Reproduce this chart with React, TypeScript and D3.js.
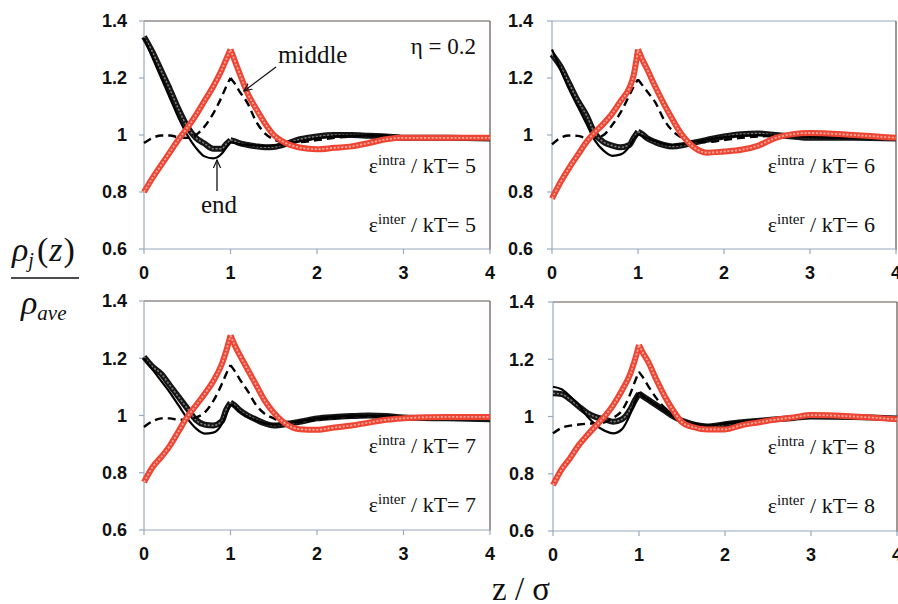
import React from "react";
import * as d3 from "d3";

// ---- data ----
const zGrid = [0, 0.1, 0.2, 0.3, 0.4, 0.5, 0.6, 0.7, 0.8, 0.9, 0.95, 1, 1.05, 1.1, 1.2, 1.3, 1.4, 1.5, 1.6, 1.8, 2, 2.2, 2.4, 2.6, 2.8, 3, 3.5, 4];

// epsilon / kT = 5
const endSim5 = [1.345, 1.29, 1.225, 1.16, 1.09, 1.03, 0.99, 0.97, 0.952, 0.952, 0.968, 0.982, 0.978, 0.972, 0.965, 0.96, 0.957, 0.958, 0.965, 0.985, 0.995, 1.0, 1.0, 0.997, 0.995, 0.99, 0.99, 0.988];
const endTheory5 = [1.34, 1.27, 1.2, 1.13, 1.06, 1.0, 0.955, 0.925, 0.918, 0.935, 0.955, 0.975, 0.972, 0.968, 0.965, 0.963, 0.962, 0.963, 0.967, 0.978, 0.988, 0.995, 0.998, 0.998, 0.996, 0.994, 0.993, 0.993];
const midTheory5 = [0.972, 0.99, 0.998, 0.998, 0.992, 0.99, 1.0, 1.03, 1.075, 1.135, 1.17, 1.2, 1.18, 1.155, 1.11, 1.045, 1.005, 0.985, 0.975, 0.975, 0.982, 0.99, 0.995, 0.998, 0.998, 0.996, 0.995, 0.995];
const midSim5 = [0.8, 0.85, 0.895, 0.94, 0.985, 1.025, 1.07, 1.12, 1.17, 1.23, 1.265, 1.3, 1.26, 1.22, 1.145, 1.09, 1.04, 1.0, 0.978, 0.956, 0.95, 0.955, 0.96, 0.972, 0.985, 0.99, 0.99, 0.99];

// epsilon / kT = 6
const endSim6 = [1.283, 1.24, 1.18, 1.12, 1.07, 1.005, 0.975, 0.963, 0.957, 0.965, 0.99, 1.012, 1.003, 0.99, 0.975, 0.965, 0.96, 0.963, 0.97, 0.983, 0.995, 1.003, 1.005, 1.0, 0.995, 0.99, 0.99, 0.988];
const endTheory6 = [1.3, 1.23, 1.16, 1.1, 1.04, 0.98, 0.945, 0.927, 0.932, 0.96, 0.985, 1.003, 0.997, 0.99, 0.978, 0.968, 0.965, 0.967, 0.972, 0.984, 0.993, 0.998, 1.0, 0.998, 0.995, 0.992, 0.99, 0.99];
const midTheory6 = [0.967, 0.99, 0.998, 0.997, 0.99, 0.99, 1.0, 1.035, 1.08, 1.14, 1.17, 1.195, 1.175, 1.155, 1.115, 1.055, 1.015, 0.992, 0.978, 0.975, 0.982, 0.99, 0.995, 0.997, 0.997, 0.995, 0.993, 0.993];
const midSim6 = [0.777, 0.835, 0.885, 0.93, 0.975, 1.01, 1.04, 1.075, 1.12, 1.165, 1.21, 1.3, 1.265, 1.235, 1.17, 1.11, 1.055, 1.005, 0.97, 0.938, 0.942, 0.948, 0.963, 0.99, 1.003, 1.007, 1.0, 0.99];

// epsilon / kT = 7
const endSim7 = [1.205, 1.17, 1.145, 1.105, 1.065, 1.025, 0.985, 0.968, 0.965, 0.98, 1.02, 1.045, 1.035, 1.02, 1.0, 0.985, 0.972, 0.965, 0.968, 0.978, 0.99, 0.995, 0.998, 1.0, 0.998, 0.993, 0.99, 0.987];
const endTheory7 = [1.2, 1.16, 1.12, 1.08, 1.035, 0.99, 0.955, 0.937, 0.94, 0.97, 1.005, 1.04, 1.03, 1.015, 0.995, 0.982, 0.972, 0.968, 0.97, 0.98, 0.99, 0.996, 0.999, 1.0, 0.998, 0.995, 0.993, 0.993];
const midTheory7 = [0.96, 0.98, 0.99, 0.99, 0.985, 0.985, 0.993, 1.01, 1.05, 1.11, 1.145, 1.176, 1.155, 1.13, 1.085, 1.035, 1.005, 0.99, 0.978, 0.977, 0.985, 0.99, 0.995, 0.997, 0.997, 0.995, 0.994, 0.994];
const midSim7 = [0.767, 0.82, 0.855, 0.895, 0.945, 0.995, 1.035, 1.075, 1.12, 1.18, 1.225, 1.28, 1.245, 1.215, 1.16, 1.105, 1.05, 1.01, 0.98, 0.952, 0.95, 0.958, 0.965, 0.975, 0.985, 0.99, 0.995, 0.995];

// epsilon / kT = 8
const endSim8 = [1.081, 1.078, 1.06, 1.035, 1.012, 0.998, 0.99, 0.982, 0.99, 1.025, 1.055, 1.08, 1.07, 1.06, 1.04, 1.02, 1.0, 0.985, 0.975, 0.965, 0.973, 0.98, 0.985, 0.99, 0.995, 1.0, 0.998, 0.993];
const endTheory8 = [1.104, 1.095, 1.07, 1.04, 1.0, 0.97, 0.95, 0.941, 0.955, 1.01, 1.05, 1.085, 1.07, 1.06, 1.04, 1.02, 1.0, 0.985, 0.975, 0.968, 0.975, 0.982, 0.988, 0.993, 0.997, 1.0, 0.998, 0.995];
const midTheory8 = [0.941, 0.96, 0.968, 0.972, 0.975, 0.976, 0.98, 0.995, 1.02, 1.08, 1.12, 1.156, 1.135, 1.11, 1.065, 1.03, 1.01, 0.99, 0.978, 0.97, 0.975, 0.982, 0.988, 0.993, 0.997, 1.0, 0.998, 0.995];
const midSim8 = [0.76, 0.815, 0.855, 0.9, 0.935, 0.968, 1.0, 1.04, 1.09, 1.15, 1.195, 1.25, 1.22, 1.195, 1.13, 1.07, 1.02, 0.98, 0.965, 0.955, 0.955, 0.97, 0.98, 0.99, 0.997, 1.005, 1.0, 0.99];

const epsValues = [5, 6, 7, 8];
const xTicks = [0, 1, 2, 3, 4];
const xTickLabels = ["0", "1", "2", "3", "4"];
const yTicks = [0.6, 0.8, 1, 1.2, 1.4];
const yTickLabels = ["0.6", "0.8", "1", "1.2", "1.4"];

const panelSeries = [
  { endSim: endSim5, endTheory: endTheory5, midTheory: midTheory5, midSim: midSim5 },
  { endSim: endSim6, endTheory: endTheory6, midTheory: midTheory6, midSim: midSim6 },
  { endSim: endSim7, endTheory: endTheory7, midTheory: midTheory7, midSim: midSim7 },
  { endSim: endSim8, endTheory: endTheory8, midTheory: midTheory8, midSim: midSim8 },
];

// ---- layout ----
const layouts = [
  { x0: 144, x1: 490, y0: 21, y1: 249, labelRight: 476, labelGap: 17, lightTop: false },
  { x0: 552, x1: 896, y0: 21, y1: 249, labelRight: 875, labelGap: 19, lightTop: true },
  { x0: 144, x1: 490, y0: 301, y1: 530, labelRight: 476, labelGap: 17, lightTop: false },
  { x0: 553, x1: 897, y0: 302, y1: 531, labelRight: 875, labelGap: 19, lightTop: false },
];

const AXIS = "#98aabd";
const FRAME = "#5e524e";
const RED = "#ee4433";
const RED_IN = "#f8a595";
const SANS = "'Liberation Sans', Arial, sans-serif";
const SERIF = "'Liberation Serif', 'Times New Roman', serif";

const cuspIndex = zGrid.indexOf(1);

function Panel({ idx }: { idx: number }) {
  const L = layouts[idx];
  const S = panelSeries[idx];
  const x = d3.scaleLinear().domain([0, 4]).range([L.x0, L.x1]);
  const y = d3.scaleLinear().domain([0.6, 1.4]).range([L.y1, L.y0]);
  const line = d3
    .line<[number, number]>()
    .x((d) => x(d[0]))
    .y((d) => y(d[1]))
    .curve(d3.curveMonotoneX);
  const pathOf = (vals: number[]) => {
    const pts = zGrid.map((z, i) => [z, vals[i]] as [number, number]);
    return (line(pts.slice(0, cuspIndex + 1)) || "") + (line(pts.slice(cuspIndex)) || "");
  };
  const eps = epsValues[idx];
  return (
    <g>
      {/* frame top/right */}
      <line x1={L.x0} x2={L.x1} y1={L.y0} y2={L.y0} stroke={L.lightTop ? AXIS : FRAME} strokeWidth={1.2} />
      <line x1={L.x1} x2={L.x1} y1={L.y0} y2={L.y1 + 1} stroke={FRAME} strokeWidth={1.2} />
      {/* axes */}
      <line x1={L.x0} x2={L.x0} y1={L.y0} y2={L.y1} stroke={AXIS} strokeWidth={1.2} />
      <line x1={L.x0} x2={L.x1} y1={L.y1} y2={L.y1} stroke={AXIS} strokeWidth={1.2} />
      {yTicks.map((t, i) => (
        <g key={"y" + i}>
          <line x1={L.x0 - 5} x2={L.x0} y1={y(t)} y2={y(t)} stroke={AXIS} strokeWidth={1.2} />
          <text
            x={L.x0 - L.labelGap}
            y={y(t)}
            dy="0.36em"
            textAnchor="end"
            fontFamily={SANS}
            fontWeight="bold"
            fontSize={18}
            fill="#111"
          >
            {yTickLabels[i]}
          </text>
        </g>
      ))}
      {xTicks.map((t, i) => (
        <g key={"x" + i}>
          <line x1={x(t)} x2={x(t)} y1={L.y1} y2={L.y1 + 5} stroke={AXIS} strokeWidth={1.2} />
          <text x={x(t)} y={L.y1 + 30} textAnchor="middle" fontFamily={SANS} fontWeight="bold" fontSize={18} fill="#111">
            {xTickLabels[i]}
          </text>
        </g>
      ))}
      {/* end segment simulation (open circles band) */}
      <path d={pathOf(S.endSim)} fill="none" stroke="#151515" strokeWidth={6} strokeLinejoin="round" />
      <path d={pathOf(S.endSim)} fill="none" stroke="#7a7a7a" strokeWidth={1.6} strokeDasharray="2.2 1.6" />
      {/* end segment theory */}
      <path d={pathOf(S.endTheory)} fill="none" stroke="#000" strokeWidth={2.2} />
      {/* middle segment theory */}
      <path d={pathOf(S.midTheory)} fill="none" stroke="#000" strokeWidth={2.4} strokeDasharray="8 5" />
      {/* middle segment simulation (open circles band) */}
      <path d={pathOf(S.midSim)} fill="none" stroke={RED} strokeWidth={6} strokeLinejoin="round" />
      <path d={pathOf(S.midSim)} fill="none" stroke={RED_IN} strokeWidth={1.8} strokeDasharray="2.2 1.6" />
      {/* epsilon labels */}
      <text x={L.labelRight} y={L.y0 + 152} textAnchor="end" fontFamily={SERIF} fontSize={22} fill="#111">
        ε<tspan fontSize={15} dy={-8}>intra</tspan>
        <tspan dy={8}>{" / kT= " + eps}</tspan>
      </text>
      <text x={L.labelRight} y={L.y0 + 211} textAnchor="end" fontFamily={SERIF} fontSize={22} fill="#111">
        ε<tspan fontSize={15} dy={-8}>inter</tspan>
        <tspan dy={8}>{" / kT= " + eps}</tspan>
      </text>
    </g>
  );
}

export default function App() {
  return (
    <svg
      width={898}
      height={604}
      style={{ position: "absolute", left: 0, top: 0, background: "#fff" }}
      xmlns="http://www.w3.org/2000/svg"
    >
      <defs>
        <marker id="arr" viewBox="0 0 10 10" refX={9} refY={5} markerWidth={9} markerHeight={9} orient="auto" markerUnits="userSpaceOnUse">
          <path d="M0,1 L9,5 L0,9" fill="none" stroke="#111" strokeWidth={1.3} />
        </marker>
      </defs>
      {[0, 1, 2, 3].map((i) => (
        <Panel key={i} idx={i} />
      ))}
      {/* annotations in first panel */}
      <text x={476} y={54} textAnchor="end" fontFamily={SERIF} fontSize={23} fill="#111">
        η = 0.2
      </text>
      <text x={278} y={63} fontFamily={SERIF} fontSize={25} fill="#111">
        middle
      </text>
      <line x1={276} y1={67} x2={244} y2={91} stroke="#111" strokeWidth={1.3} markerEnd="url(#arr)" />
      <text x={201} y={213} fontFamily={SERIF} fontSize={25} fill="#111">
        end
      </text>
      <line x1={217} y1={191} x2={217} y2={160} stroke="#111" strokeWidth={1.3} markerEnd="url(#arr)" />
      {/* y-axis label */}
      <text x={12} y={261} fontFamily={SERIF} fontStyle="italic" fontSize={34} fill="#111">
        ρ<tspan fontSize={20} dy={6}>j</tspan>
        <tspan dy={-6} fontStyle="normal" dx={3}>(</tspan>
        <tspan dx={1}>z</tspan>
        <tspan fontStyle="normal" dx={1}>)</tspan>
      </text>
      <line x1={11} x2={79} y1={278} y2={278} stroke="#111" strokeWidth={1.5} />
      <text x={21} y={314} fontFamily={SERIF} fontStyle="italic" fontSize={34} fill="#111">
        ρ<tspan fontSize={21} dy={6}>ave</tspan>
      </text>
      {/* x-axis label */}
      <text x={492} y={600} fontFamily={SERIF} fontSize={33} fill="#111">
        z / σ
      </text>
    </svg>
  );
}
